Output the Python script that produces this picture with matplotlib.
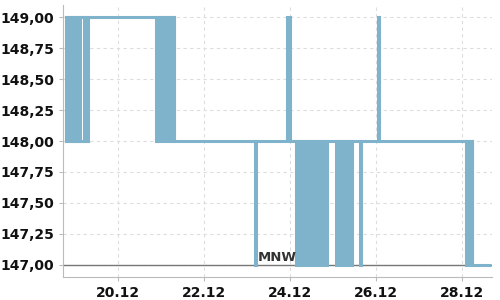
import matplotlib
matplotlib.use("Agg")
import matplotlib.pyplot as plt

# price path (day of December, price), held until next point
step_t = [18.80, 20.895, 21.31, 23.94, 23.99, 26.05, 26.065, 28.245, 28.68]
step_v = [149.0, 149.0, 148.0, 149.0, 148.0, 149.0, 148.0, 147.0, 147.0]

# dense trading ranges: (start, end, low, high)
ranges = [
    (18.80, 19.105, 148.0, 149.0),
    (19.22, 19.29, 148.0, 149.0),
    (20.895, 21.31, 148.0, 149.0),
    (23.175, 23.22, 147.0, 148.0),
    (24.15, 24.87, 147.0, 148.0),
    (25.08, 25.45, 147.0, 148.0),
    (25.64, 25.66, 147.0, 148.0),
    (28.105, 28.245, 147.0, 148.0),
]
low_lines = [(18.80, 19.29, 148.0)]

min_value = 147.0
min_label = "MNW"

xticks = [20, 22, 24, 26, 28]
xlabels = ["20.12", "22.12", "24.12", "26.12", "28.12"]
yticks = [147.0, 147.25, 147.5, 147.75, 148.0, 148.25, 148.5, 148.75, 149.0]

col = "#7eb3cb"
lw = 2.2

fig = plt.figure(figsize=(5, 3), dpi=100)
ax = fig.add_axes([0.126, 0.077, 0.858, 0.906])

ax.grid(True, color="#dddddd", linestyle=(0, (3, 3)), linewidth=0.8)
ax.set_axisbelow(True)

ax.axhline(min_value, color="#777777", linewidth=1.0, zorder=2)
ax.text(23.26, min_value + 0.01, min_label, color="#333333", fontsize=9.5,
        fontweight="bold", ha="left", va="bottom", zorder=4)

for s, e, lo, hi in ranges:
    ax.fill_between([s, e], [lo, lo], [hi, hi], facecolor=col, edgecolor=col,
                    linewidth=lw, joinstyle="miter", zorder=3)
for s, e, v in low_lines:
    ax.plot([s, e], [v, v], color=col, linewidth=lw, solid_capstyle="butt", zorder=3)

ax.step(step_t, step_v, where="post", color=col, linewidth=lw,
        solid_capstyle="butt", solid_joinstyle="miter", zorder=3)

ax.set_xlim(18.72, 28.70)
ax.set_ylim(146.903, 149.097)
ax.set_xticks(xticks)
ax.set_xticklabels(xlabels, fontweight="bold")
ax.set_yticks(yticks)
ax.set_yticklabels([("%.2f" % v).replace(".", ",") for v in yticks], fontweight="bold")

for side in ["top", "right"]:
    ax.spines[side].set_visible(False)
for side in ["left", "bottom"]:
    ax.spines[side].set_color("#bbbbbb")
ax.tick_params(axis="both", colors="#bbbbbb", labelcolor="#111111", labelsize=10, length=3)

fig.savefig("out.png", dpi=100)
